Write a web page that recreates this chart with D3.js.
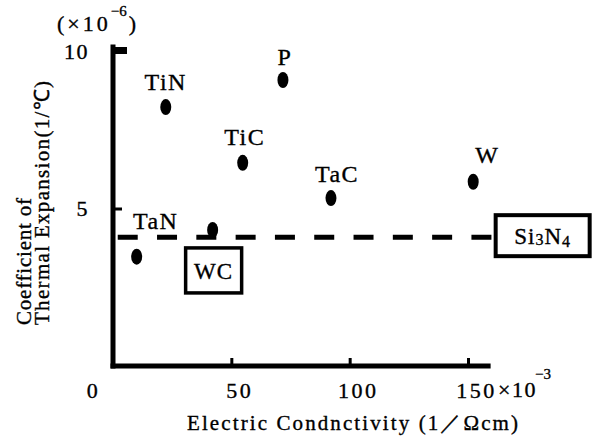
<!DOCTYPE html>
<html>
<head>
<meta charset="utf-8">
<script src="https://cdn.jsdelivr.net/npm/d3@7"></script>
<style>
  body { margin: 0; background: #fff; }
  svg { display: block; }
  svg text { font-family: "Liberation Serif", "Times New Roman", serif; stroke: #000; stroke-width: 0.35px; }
</style>
</head>
<body>
<div id="chart"></div>
<script>
// values
const materials = ["TiN", "P", "TiC", "TaN", "WC", "TaC", "W"];
const conductivity = [22.3, 71.8, 54.8, 10.0, 42.1, 92.1, 152.2]; // x10^-3 1/(ohm cm)
const expansion = [8.22, 9.08, 6.45, 3.47, 4.32, 5.33, 5.85];     // x10^-6 1/C
const xTicks = [0, 50, 100, 150];
const yTicks = [5, 10];
const si3n4Expansion = 4.09;
const si3n4Range = [2, 160];

const width = 596, height = 439;

const x = d3.scaleLinear().domain([0, 150]).range([113, 468]);
const y = d3.scaleLinear().domain([0, 10]).range([366, 51]);

const svg = d3.select("#chart").append("svg")
    .attr("width", width)
    .attr("height", height);

svg.append("rect").attr("width", width).attr("height", height).attr("fill", "#fff");

// axes lines
svg.append("line")
    .attr("x1", x(0)).attr("x2", x(0))
    .attr("y1", y(0)).attr("y2", y(10.13))
    .attr("stroke", "#000").attr("stroke-width", 5).attr("stroke-linecap", "square");
svg.append("line")
    .attr("x1", x(0)).attr("x2", x(158.5))
    .attr("y1", y(0)).attr("y2", y(0))
    .attr("stroke", "#000").attr("stroke-width", 5).attr("stroke-linecap", "square");

// y axis ticks
const yAxis = svg.append("g")
    .attr("transform", `translate(${x(0)},0)`)
    .call(d3.axisLeft(y).tickValues(yTicks).tickSize(-12).tickSizeOuter(0).tickPadding(24));
yAxis.attr("font-family", null).attr("font-size", null);
yAxis.select(".domain").remove();
yAxis.selectAll(".tick line")
    .attr("stroke", "#000")
    .attr("stroke-width", d => d === 10 ? 7 : 3)
    .attr("x2", d => d === 10 ? 14 : 9)
    .attr("transform", d => d === 10 ? "translate(0,-1)" : null);
yAxis.selectAll(".tick text")
    .attr("fill", "#000")
    .style("font-size", "22px")
    .attr("letter-spacing", 1.5);

// x axis ticks
const xAxis = svg.append("g")
    .attr("transform", `translate(0,${y(0)})`)
    .call(d3.axisBottom(x).tickValues(xTicks).tickSize(-8).tickSizeOuter(0).tickPadding(16));
xAxis.attr("font-family", null).attr("font-size", null);
xAxis.select(".domain").remove();
xAxis.selectAll(".tick line")
    .attr("stroke", "#000")
    .attr("stroke-width", 3)
    .attr("display", d => d === 0 ? "none" : null);
xAxis.selectAll(".tick text")
    .attr("fill", "#000")
    .attr("dx", d => d === 0 ? -20 : 8)
    .style("font-size", "22px")
    .attr("letter-spacing", 2.5);

// exponent next to 150
const xExp = svg.append("text")
    .attr("x", x(150) + 30).attr("y", 397)
    .style("font-size", "22px")
    .attr("letter-spacing", 1.5);
xExp.append("tspan").text("×10");
xExp.append("tspan").text("−3").style("font-size", "15px")
    .attr("letter-spacing", 0).attr("dx", -2).attr("dy", -18);

// exponent above y axis
const yExp = svg.append("text")
    .attr("x", 57).attr("y", 31)
    .style("font-size", "22px")
    .attr("letter-spacing", 3);
yExp.append("tspan").text("(×10");
yExp.append("tspan").text("−6").style("font-size", "15px").attr("dy", -15).attr("letter-spacing", 0);
yExp.append("tspan").text(")").attr("dx", 2).attr("dy", 15);

// axis titles
svg.append("text")
    .attr("x", 187).attr("y", 430)
    .attr("textLength", 331).attr("lengthAdjust", "spacing")
    .style("font-size", "21px")
    .text("Electric Condnctivity (1／Ωcm)");

svg.append("text")
    .attr("transform", "translate(31,325) rotate(-90)")
    .attr("textLength", 127).attr("lengthAdjust", "spacing")
    .style("font-size", "21px")
    .text("Coefficient of");
svg.append("text")
    .attr("transform", "translate(49,325) rotate(-90)")
    .attr("textLength", 244).attr("lengthAdjust", "spacing")
    .style("font-size", "21px")
    .text("Thermal Expansion(1/℃)");

// Si3N4 reference line
svg.append("line")
    .attr("x1", x(si3n4Range[0])).attr("x2", x(si3n4Range[1]))
    .attr("y1", y(si3n4Expansion)).attr("y2", y(si3n4Expansion))
    .attr("stroke", "#000").attr("stroke-width", 5)
    .attr("stroke-dasharray", "20,19.3");

const siBox = svg.append("g")
    .attr("transform", `translate(${x(si3n4Range[1]) + 4},${y(si3n4Expansion) - 22})`);
siBox.append("rect")
    .attr("width", 94).attr("height", 41)
    .attr("fill", "#fff").attr("stroke", "#000").attr("stroke-width", 4);
const siText = siBox.append("text")
    .attr("x", 47).attr("y", 29)
    .attr("text-anchor", "middle")
    .attr("letter-spacing", 1)
    .style("font-size", "23px");
siText.append("tspan").text("Si");
siText.append("tspan").text("3").style("font-size", "16px").attr("dy", 1);
siText.append("tspan").text("N").attr("dy", -1);
siText.append("tspan").text("4").style("font-size", "16px").attr("dy", 3);

// points
const points = materials.map((m, i) => ({ name: m, cx: conductivity[i], cy: expansion[i] }));

svg.append("g").selectAll("ellipse")
    .data(points)
    .enter()
    .append("ellipse")
    .attr("cx", d => x(d.cx))
    .attr("cy", d => y(d.cy))
    .attr("rx", 5.5)
    .attr("ry", 8)
    .attr("fill", "#000");

// labels above points (WC gets a box instead)
const labelShift = {
    TiN: [0, -17], P: [2, -15], TiC: [2, -18],
    TaN: [19, -28], TaC: [6, -16], W: [14, -19]
};
svg.append("g").selectAll("text")
    .data(points.filter(d => d.name !== "WC"))
    .enter()
    .append("text")
    .attr("x", d => x(d.cx) + labelShift[d.name][0])
    .attr("y", d => y(d.cy) + labelShift[d.name][1])
    .attr("text-anchor", "middle")
    .attr("letter-spacing", 1.5)
    .style("font-size", "24px")
    .text(d => d.name);

const wc = points.find(d => d.name === "WC");
const wcBox = svg.append("g")
    .attr("transform", `translate(${x(wc.cx) - 27},${y(wc.cy) + 18})`);
wcBox.append("rect")
    .attr("width", 56).attr("height", 45)
    .attr("fill", "#fff").attr("stroke", "#000").attr("stroke-width", 3.5);
wcBox.append("text")
    .attr("x", 28).attr("y", 31)
    .attr("text-anchor", "middle")
    .attr("letter-spacing", 1)
    .style("font-size", "23px")
    .text("WC");
</script>
</body>
</html>
